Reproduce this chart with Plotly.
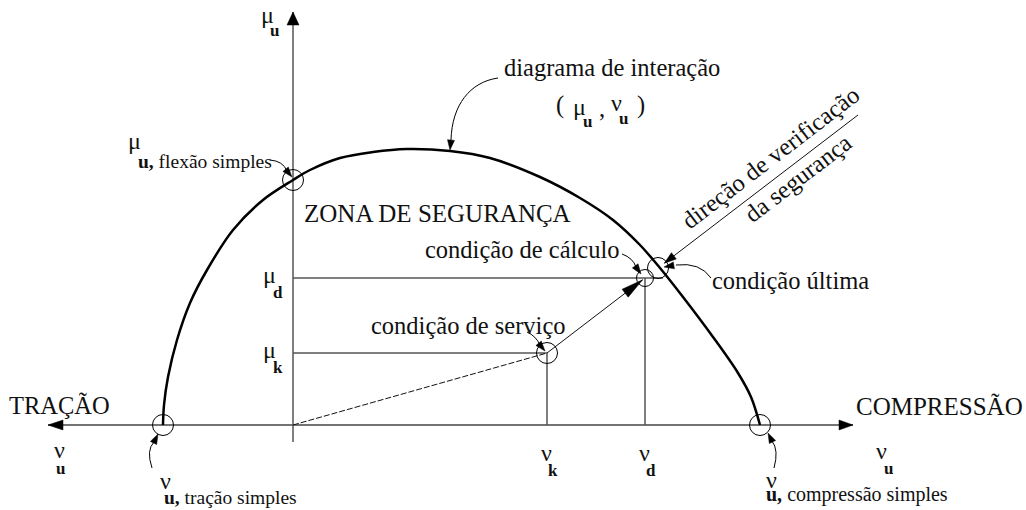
import numpy as np
import plotly.graph_objects as go

# Interaction diagram (nu_u, mu_u), drawing units with the origin at the axes crossing
curve_nu = [-130, -129, -125, -116, -103, -86, -60, -30, 0, 17, 47, 80, 114, 157, 197,
            247, 287, 320, 347, 367, 390, 420, 445, 458, 467]
curve_mu = [0, 20, 48, 85, 122, 155, 195, 225, 245, 255, 267, 273, 276, 274, 267,
            248, 227, 205, 180, 157, 128, 88, 52, 28, 0]

# Characteristic points
nu_trac, nu_comp = -130, 467          # simple tension / simple compression
mu_flex = 245                         # simple bending
nu_k, mu_k = 254, 72                  # service condition
nu_d, mu_d = 352, 147                 # design condition
nu_ult, mu_ult = 365, 157             # ultimate condition

# Axes extent
axis_nu = [-245, 560]
axis_mu = [-17, 413]
dir_end_nu = 565                      # end of the safety-check direction line

SERIF = "Liberation Serif"
INK = "#111111"
GREY = "#555555"
TXT = 24.5

fig = go.Figure()

def add_line(x, y, color=GREY, width=1.5, dash=None):
    fig.add_trace(go.Scatter(x=x, y=y, mode="lines", hoverinfo="skip",
                             line=dict(color=color, width=width, dash=dash)))

def head_path(tip, frm, length, width):
    tip = np.array(tip, float)
    d = tip - np.array(frm, float)
    d /= np.linalg.norm(d)
    n = np.array([-d[1], d[0]])
    base = tip - d * length
    p1 = base + n * width / 2
    p2 = base - n * width / 2
    return f"M {tip[0]:.2f},{tip[1]:.2f} L {p1[0]:.2f},{p1[1]:.2f} L {p2[0]:.2f},{p2[1]:.2f} Z"

shapes = []

def add_head(tip, frm, length=10, width=7):
    shapes.append(dict(type="path", xref="x", yref="y", path=head_path(tip, frm, length, width),
                       fillcolor="black", line=dict(color="black", width=0.5)))

def add_curve(path):
    shapes.append(dict(type="path", xref="x", yref="y", path=path,
                       fillcolor="rgba(0,0,0,0)", line=dict(color="black", width=1)))

# Axes with arrow heads
add_line(axis_nu, [0, 0], color="#444444", width=1.5)
add_line([0, 0], axis_mu, color=GREY, width=1.5)
add_head((axis_nu[0], 0), (0, 0), 15, 10)
add_head((axis_nu[1], 0), (0, 0), 14, 10)
add_head((0, axis_mu[1]), (0, 0), 13, 12)

# Projection lines of the service and design points
add_line([0, nu_k], [mu_k, mu_k])
add_line([nu_k, nu_k], [0, mu_k])
add_line([0, nu_ult + 5], [mu_d, mu_d])
add_line([nu_d, nu_d], [0, mu_d])

# Loading path: origin -> service (dashed), service -> design, design -> safety-check direction
add_line([0, nu_k], [0, mu_k], color=INK, width=1, dash="6px,2px")
u = np.array([nu_d - nu_k, mu_d - mu_k], float)
u /= np.linalg.norm(u)
tip_d = np.array([nu_d, mu_d]) - 3 * u
add_line([nu_k, tip_d[0]], [mu_k, tip_d[1]], color=INK, width=1)
add_head(tip_d, (nu_k, mu_k), 22, 10)
slope = (mu_d - mu_k) / (nu_d - nu_k)
dir_end_mu = mu_d + slope * (dir_end_nu - nu_d)
tip_u = np.array([nu_ult, mu_ult]) + 8 * u
add_line([tip_u[0], dir_end_nu], [tip_u[1], dir_end_mu], color=INK, width=1)
add_head(tip_u, (dir_end_nu, dir_end_mu), 12, 8)

# Interaction curve
fig.add_trace(go.Scatter(x=curve_nu, y=curve_mu, mode="lines", hoverinfo="skip",
                         line=dict(color="black", width=2.5, shape="spline", smoothing=1.0)))

# Circled points
fig.add_trace(go.Scatter(
    x=[nu_trac, nu_comp, 0, nu_k, nu_ult],
    y=[0, 0, mu_flex, mu_k, mu_ult], mode="markers", hoverinfo="skip",
    marker=dict(symbol="circle-open", size=21, color="black", line=dict(width=1))))
fig.add_trace(go.Scatter(
    x=[nu_d], y=[mu_d], mode="markers", hoverinfo="skip",
    marker=dict(symbol="circle-open", size=17, color="black", line=dict(width=1))))

# Curved leader arrows
add_curve("M 205,347 C 177,343 159,320 158,285")
add_head((157, 275), (158, 285))
add_curve("M -23,265 Q -10,264 -6,254")
add_head((-1, 248), (-6, 254))
add_curve("M 329,171 Q 340,167 343,158")
add_head((348, 151), (343, 158))
add_curve("M 418,147 Q 407,163 383,160")
add_head((371, 158), (383, 160))
add_curve("M 234,93 Q 243,89 247,80")
add_head((252, 74), (247, 80))
add_curve("M -141,-43 Q -147,-25 -139,-17")
add_head((-135, -9), (-139, -17))
add_curve("M 481,-43 Q 486,-25 479,-16")
add_head((475, -8), (479, -16))

annotations = []

def label(text, x, y, size=TXT, angle=0):
    annotations.append(dict(text=text, x=x, y=y, xref="x", yref="y", showarrow=False,
                            xanchor="center", yanchor="middle", textangle=angle,
                            font=dict(family=SERIF, size=size, color=INK)))

def symbol(base, sub, left, top, gap=15, indent=0, sub_size=17, base_size=24):
    """Greek symbol with a lowered index written on a second, indented line."""
    pad = f"<span style='font-size:{indent * 4}px'>\u00a0</span>" if indent else ""
    text = (f"<span style='font-size:{base_size}px'>{base}</span><br>"
            f"{pad}<span style='font-size:{sub_size}px'>{sub}</span>")
    annotations.append(dict(text=text, x=left, y=top, xref="x", yref="y", showarrow=False,
                            xanchor="left", yanchor="top", align="left",
                            font=dict(family=SERIF, size=gap / 1.3, color=INK)))

label("diagrama de interação", 319, 358)
label("(", 267, 320)
label(",", 309, 317)
label(")", 348, 320)
symbol("μ", "<b>u</b>", 278, 336, gap=12, indent=10)
symbol("ν", "<b>u</b>", 316, 337, gap=13, indent=8)

symbol("μ", "<b>u,</b> flexão simples", -167, 299, gap=19, indent=10, sub_size=19.5)

label("ZONA DE SEGURANÇA", 144, 212, 25)
label("condição de cálculo", 229, 176)
label("condição de serviço", 175, 100)
label("condição última", 497, 145)
label("direção de verificação", 477, 268, angle=-37.5)
label("da segurança", 504, 247, angle=-37.5)

label("TRAÇÃO", -234, 20)
label("COMPRESSÃO", 646, 19, 25)

symbol("ν", "<b>u</b>", -241, -10, gap=16, indent=2)
symbol("ν", "<b>u</b>", 581, -11, gap=15, indent=8)
symbol("ν", "<b>k</b>", nu_k - 8, -13, gap=15, indent=7)
symbol("ν", "<b>d</b>", nu_d - 8, -13, gap=15, indent=7)

symbol("μ", "<b>d</b>", -32, 165, gap=15, indent=10)
symbol("μ", "<b>k</b>", -32, 90, gap=15, indent=10)
symbol("μ", "<b>u</b>", -34, 425, gap=13, indent=9)

symbol("ν", "<b>u,</b> tração simples", -135, -41, gap=15, indent=4, sub_size=19.5)
symbol("ν", "<b>u,</b> compressão simples", 471, -40, gap=13, indent=0, sub_size=20)

fig.update_layout(
    width=1026, height=510,
    margin=dict(l=0, r=0, t=0, b=0),
    paper_bgcolor="white", plot_bgcolor="white",
    showlegend=False,
    xaxis=dict(range=[-293, 733], visible=False, fixedrange=True),
    yaxis=dict(range=[-85, 425], visible=False, fixedrange=True),
    shapes=shapes,
    annotations=annotations,
)

fig.write_html("out.html")
